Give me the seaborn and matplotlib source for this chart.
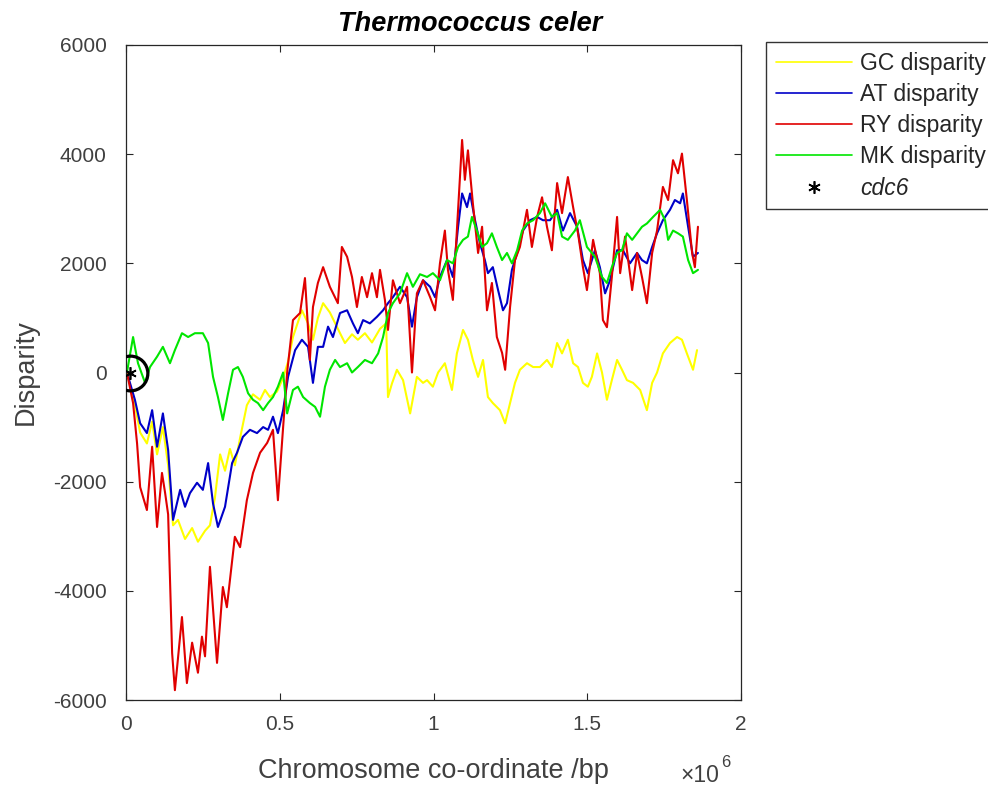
import numpy as np
import pandas as pd
import matplotlib
matplotlib.use("Agg")
import matplotlib.pyplot as plt
import seaborn as sns
from matplotlib.ticker import FuncFormatter

sns.set_theme(style="white")
plt.rcParams["font.family"] = ["Liberation Sans", "DejaVu Sans"]

# ---------------- data (positions in kb, disparity values) ----------------
title = "Thermococcus celer"
series_names = ["GC disparity", "AT disparity", "RY disparity", "MK disparity"]
marker_name = "cdc6"
cdc6_kb = [13]
cdc6_val = [0]

gc_kb = [3, 29, 46, 68, 85, 101, 120, 137, 153, 169, 192, 215, 234, 257, 273, 289, 306, 322, 338, 354,
         371, 393, 413, 436, 452, 468, 491, 511, 527, 543, 572, 592, 608, 624, 641, 663, 689, 712, 735, 754,
         777, 800, 826, 846, 852, 865, 881, 901, 924, 946, 966, 979, 998, 1015, 1037, 1060, 1076, 1096, 1112, 1128,
         1145, 1161, 1177, 1193, 1216, 1233, 1249, 1265, 1281, 1304, 1324, 1346, 1369, 1385, 1402, 1418, 1437, 1454, 1470, 1486,
         1502, 1515, 1532, 1548, 1564, 1580, 1597, 1613, 1629, 1649, 1672, 1694, 1711, 1727, 1746, 1769, 1792, 1808, 1824, 1844,
         1857]
gc_val = [0, -600, -1100, -1300, -900, -1500, -1000, -1700, -2800, -2700, -3050, -2850, -3100, -2900, -2800, -2300, -1500, -1800, -1400, -1700,
          -1200, -600, -400, -500, -320, -450, -350, -100, 200, 650, 1140, 900, 600, 1000, 1270, 1100, 800, 540, 700, 600,
          720, 550, 800, 900, -450, -200, 50, -140, -750, -80, -190, -140, -260, 0, 170, -320, 350, 780, 600, 230,
          -80, 230, -450, -560, -690, -930, -560, -190, 50, 170, 100, 100, 230, 100, 540, 350, 600, 170, 100, -190,
          -260, -80, 350, 0, -500, -140, 230, 50, -140, -190, -320, -690, -190, 0, 350, 540, 650, 600, 350, 50,
          410]

at_kb = [3, 29, 46, 68, 85, 101, 120, 137, 153, 176, 192, 208, 231, 250, 267, 283, 299, 322, 345, 361,
         380, 403, 426, 446, 462, 478, 494, 511, 527, 550, 572, 592, 608, 624, 641, 657, 673, 696, 719, 738,
         754, 771, 793, 816, 836, 852, 868, 891, 914, 930, 946, 966, 989, 1005, 1021, 1044, 1063, 1080, 1093, 1109,
         1119, 1135, 1151, 1167, 1177, 1193, 1210, 1226, 1239, 1255, 1272, 1291, 1314, 1337, 1356, 1379, 1402, 1421, 1444, 1467,
         1486, 1502, 1525, 1541, 1558, 1574, 1597, 1616, 1639, 1662, 1678, 1694, 1711, 1727, 1746, 1769, 1785, 1802, 1811, 1828,
         1844, 1860]
at_val = [0, -500, -930, -1110, -690, -1360, -750, -1420, -2700, -2150, -2460, -2210, -2020, -2150, -1660, -2400, -2830, -2460, -1660, -1470,
          -1180, -1050, -1110, -1000, -1050, -810, -1110, -690, -80, 410, 600, 470, -190, 470, 470, 840, 650, 1090, 1140, 900,
          720, 960, 900, 1020, 1140, 1270, 1380, 1570, 1380, 840, 1380, 1690, 1570, 1380, 1750, 2060, 1750, 2670, 3280, 3030,
          3280, 2790, 2370, 2060, 1820, 1930, 1510, 1140, 1270, 1880, 2190, 2600, 2790, 2850, 2790, 2790, 2980, 2600, 2920, 2670,
          2060, 1820, 2240, 1930, 1450, 1690, 2240, 2240, 2000, 2190, 2060, 2000, 2300, 2550, 2790, 2980, 3160, 3100, 3280, 2670,
          2120, 2190]

ry_kb = [3, 23, 36, 46, 68, 85, 101, 117, 127, 137, 150, 159, 182, 198, 215, 234, 247, 257, 273, 296,
         315, 328, 354, 371, 393, 413, 436, 459, 478, 494, 511, 524, 543, 566, 582, 598, 608, 624, 641, 663,
         689, 702, 719, 735, 751, 767, 784, 800, 816, 826, 842, 852, 868, 891, 914, 930, 946, 966, 989, 1005,
         1021, 1037, 1047, 1063, 1076, 1093, 1102, 1112, 1128, 1145, 1158, 1174, 1190, 1206, 1223, 1233, 1249, 1265, 1281, 1304,
         1320, 1337, 1353, 1369, 1385, 1402, 1418, 1437, 1454, 1470, 1486, 1499, 1519, 1541, 1551, 1564, 1580, 1597, 1607, 1623,
         1646, 1662, 1678, 1694, 1711, 1727, 1746, 1763, 1779, 1795, 1808, 1824, 1841, 1850, 1860]
ry_val = [0, -560, -1300, -2100, -2520, -1360, -2830, -1840, -2200, -2600, -5140, -5820, -4480, -5690, -4950, -5500, -4840, -5200, -3560, -5320,
          -3930, -4300, -3010, -3200, -2340, -1840, -1470, -1290, -1050, -2340, -1000, 0, 960, 1090, 1730, 230, 1200, 1640, 1930, 1570,
          1270, 2300, 2120, 1750, 1200, 1750, 1380, 1820, 1380, 1880, 1330, 780, 1690, 1270, 1570, 0, 1450, 1690, 1380, 1140,
          2000, 2600, 1880, 1330, 2600, 4260, 3530, 4070, 3100, 2190, 2670, 1140, 1640, 650, 360, 50, 1200, 2060, 2300, 2980,
          2300, 2850, 3210, 2670, 2240, 3470, 2920, 3580, 3030, 2550, 1930, 1510, 2430, 1820, 960, 830, 1750, 2850, 1820, 2490,
          1510, 2190, 1750, 1270, 2190, 2600, 3400, 3160, 3890, 3650, 4010, 3160, 2190, 1930, 2670]

mk_kb = [3, 23, 39, 62, 78, 101, 120, 143, 159, 182, 202, 224, 250, 267, 283, 299, 315, 332, 348, 364,
         380, 397, 413, 429, 446, 462, 478, 494, 511, 524, 543, 559, 576, 598, 615, 631, 647, 663, 680, 696,
         719, 735, 754, 777, 800, 820, 836, 852, 868, 891, 914, 933, 956, 979, 998, 1021, 1044, 1063, 1080, 1096,
         1112, 1125, 1141, 1158, 1174, 1190, 1206, 1223, 1239, 1255, 1272, 1288, 1304, 1324, 1346, 1363, 1385, 1402, 1418, 1437,
         1460, 1476, 1499, 1525, 1548, 1564, 1580, 1597, 1613, 1629, 1646, 1662, 1678, 1694, 1714, 1737, 1753, 1763, 1779, 1795,
         1811, 1828, 1844, 1860]
mk_val = [0, 650, 170, -190, 100, 290, 470, 170, 410, 720, 650, 720, 720, 540, -80, -450, -870, -380, 50, 100,
          -80, -380, -500, -560, -690, -560, -450, -260, 0, -750, -320, -260, -450, -560, -630, -810, -260, 50, 230, 100,
          170, 0, 100, 230, 170, 350, 650, 1090, 1270, 1450, 1820, 1570, 1800, 1750, 1820, 1690, 2060, 2000, 2300, 2430,
          2490, 2850, 2600, 2300, 2370, 2550, 2300, 2060, 2190, 2000, 2240, 2600, 2730, 2790, 2920, 3100, 2850, 2920, 2490, 2430,
          2600, 2790, 2300, 2120, 1750, 1640, 1930, 2190, 2240, 2550, 2430, 2550, 2670, 2730, 2850, 2980, 2790, 2430, 2600, 2550,
          2490, 2060, 1820, 1880]

colors = ["#ffff00", "#0000c8", "#e00000", "#00e600"]

x_ticks = [0, 500000, 1000000, 1500000, 2000000]
y_ticks = [-6000, -4000, -2000, 0, 2000, 4000, 6000]

# ---------------- figure ----------------
W, H = 988, 787
fig = plt.figure(figsize=(W / 100, H / 100), dpi=100)
ax = fig.add_axes([126 / W, 1 - 700 / H, (741 - 126) / W, (700 - 45) / H])

all_series = [(gc_kb, gc_val), (at_kb, at_val), (ry_kb, ry_val), (mk_kb, mk_val)]
for name, (kb, vals), col in zip(series_names, all_series, colors):
    df = pd.DataFrame({"pos": np.array(kb) * 1000, "disp": vals})
    sns.lineplot(data=df, x="pos", y="disp", ax=ax, color=col, lw=1.5,
                 label=name, estimator=None, sort=False)

# cdc6 marker and circle
ax.plot(np.array(cdc6_kb) * 1000, cdc6_val, linestyle="none", marker=(6, 2, 0),
        color="black", ms=9, mew=1.2, label=marker_name, zorder=6)
ax.plot(np.array(cdc6_kb) * 1000, cdc6_val, linestyle="none", marker="o",
        mfc="none", mec="black", ms=25, mew=2.3, zorder=6, label="_nolegend_")

ax.set_xlim(0, 2000000)
ax.set_ylim(-6000, 6000)
ax.set_xticks(x_ticks)
ax.set_yticks(y_ticks)
ax.xaxis.set_major_formatter(FuncFormatter(lambda v, p: f"{v / 1e6:g}"))
ax.yaxis.set_major_formatter(FuncFormatter(lambda v, p: f"{v:g}"))
ax.tick_params(direction="in", length=5, width=0.8, top=True, right=True, left=True, bottom=True,
               labelsize=15, colors="#262626", labelcolor="#404040")
ax.tick_params(axis="x", pad=11)
ax.tick_params(axis="y", pad=14)
for s in ax.spines.values():
    s.set_color("#262626")
    s.set_linewidth(0.9)

ax.set_xlabel("Chromosome co-ordinate /bp", fontsize=19.5, color="#404040", labelpad=17)
ax.set_ylabel("Disparity", fontsize=19.5, color="#404040", labelpad=10)
ttl = ax.set_title(title, fontsize=19.5, fontweight="bold", fontstyle="italic", color="black", pad=10)
ttl.set_x((470 - 126) / (741 - 126))

# x10^6 multiplier
fig.text(680 / W, 1 - 782 / H, "\u00d710", fontsize=16.5, color="#404040", ha="left", va="baseline")
fig.text(721 / W, 1 - 767 / H, "6", fontsize=12, color="#404040", ha="left", va="baseline")

# legend
handles, labels = ax.get_legend_handles_labels()
ax.get_legend().remove()
leg = fig.legend(handles, labels, loc="upper left", bbox_to_anchor=(766 / W, 1 - 42 / H),
                 bbox_transform=fig.transFigure, fontsize=16.5, frameon=True, fancybox=False,
                 edgecolor="black", borderaxespad=0, handlelength=3.35, handletextpad=0.35,
                 labelspacing=0.36, borderpad=0.42)
leg.get_frame().set_linewidth(1.0)
for t in leg.get_texts():
    t.set_color("#262626")
leg.get_texts()[-1].set_fontstyle("italic")
for lh in leg.get_lines()[:4]:
    lh.set_linewidth(1.2)

fig.savefig("out.png", dpi=100)
